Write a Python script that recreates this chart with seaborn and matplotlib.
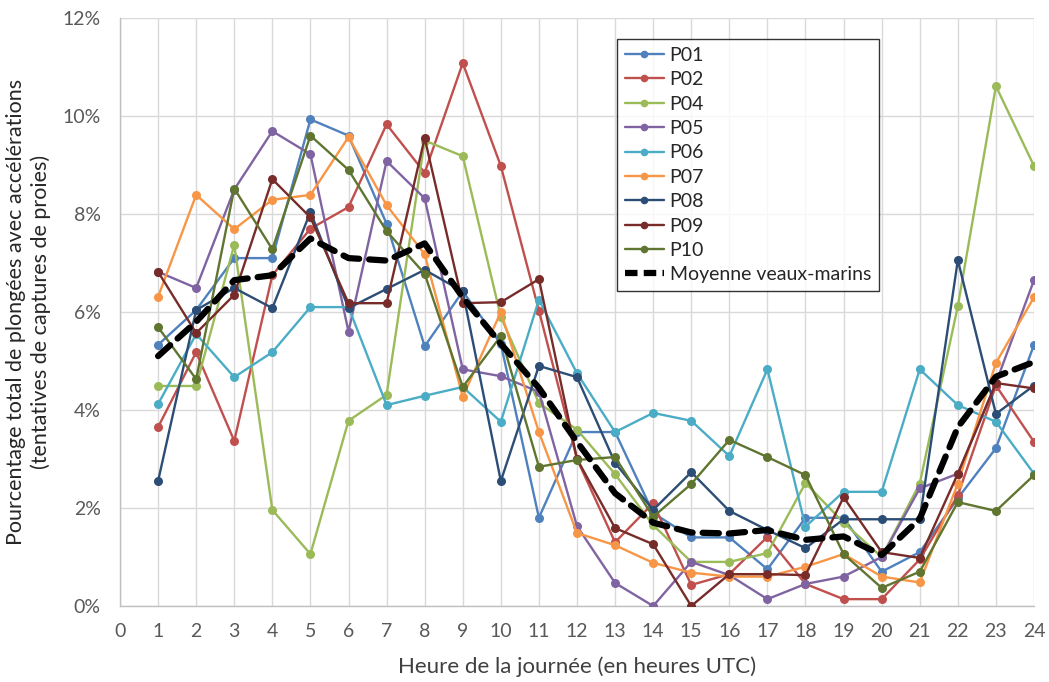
import numpy as np
import pandas as pd
import matplotlib
matplotlib.use("Agg")
import matplotlib.pyplot as plt
import seaborn as sns
from matplotlib.lines import Line2D

hours = list(range(1, 25))
series_names = ["P01", "P02", "P04", "P05", "P06", "P07", "P08", "P09", "P10"]

P01 = [5.33, 6.04, 7.1, 7.1, 9.93, 9.6, 7.8, 5.3, 6.42, 5.35, 1.8, 3.55, 3.55, 1.9, 1.4, 1.4, 0.75, 1.8, 1.8, 0.7, 1.1, 2.2, 3.22, 5.33]
P02 = [3.65, 5.18, 3.37, 6.75, 7.7, 8.14, 9.83, 8.84, 11.08, 8.98, 6.03, 3.0, 1.3, 2.1, 0.43, 0.65, 1.41, 0.45, 0.14, 0.14, 0.95, 2.26, 4.5, 3.35]
P04 = [4.49, 4.49, 7.37, 1.96, 1.06, 3.78, 4.31, 9.5, 9.18, 5.9, 4.14, 3.6, 2.69, 1.65, 0.9, 0.9, 1.08, 2.51, 1.7, 1.0, 2.5, 6.12, 10.61, 8.98]
P05 = [6.82, 6.49, 8.5, 9.69, 9.22, 5.6, 9.08, 8.32, 4.83, 4.69, 4.37, 1.63, 0.47, 0.0, 0.9, 0.63, 0.14, 0.45, 0.6, 1.0, 2.4, 2.7, 4.55, 6.65]
P06 = [4.12, 5.55, 4.67, 5.18, 6.1, 6.1, 4.1, 4.29, 4.47, 3.76, 6.25, 4.75, 3.55, 3.94, 3.78, 3.06, 4.83, 1.62, 2.33, 2.33, 4.83, 4.1, 3.76, 2.7]
P07 = [6.31, 8.39, 7.69, 8.29, 8.39, 9.57, 8.18, 7.18, 4.27, 6.0, 3.55, 1.49, 1.24, 0.88, 0.68, 0.6, 0.6, 0.8, 1.06, 0.6, 0.48, 2.5, 4.96, 6.3]
P08 = [2.55, 6.04, 6.49, 6.08, 8.04, 6.08, 6.47, 6.86, 6.42, 2.55, 4.9, 4.67, 2.92, 1.96, 2.73, 1.94, 1.55, 1.18, 1.77, 1.77, 1.77, 7.06, 3.92, 4.5]
P09 = [6.82, 5.57, 6.35, 8.71, 7.93, 6.18, 6.18, 9.55, 6.18, 6.2, 6.67, 3.0, 1.59, 1.26, 0.0, 0.65, 0.65, 0.63, 2.22, 1.1, 0.98, 2.7, 4.55, 4.44]
P10 = [5.69, 4.63, 8.52, 7.28, 9.6, 8.9, 7.65, 6.78, 4.47, 5.51, 2.84, 2.98, 3.04, 1.82, 2.49, 3.39, 3.04, 2.67, 1.06, 0.37, 0.7, 2.12, 1.94, 2.67]
mean_values = [5.1, 5.8, 6.65, 6.75, 7.5, 7.1, 7.05, 7.4, 6.3, 5.35, 4.45, 3.35, 2.3, 1.7, 1.5, 1.48, 1.55, 1.35, 1.42, 1.04, 1.78, 3.65, 4.68, 4.98]
mean_name = "Moyenne veaux-marins"

colors = ["#4F81BD", "#C0504D", "#9BBB59", "#8064A2", "#4BACC6",
          "#F79646", "#2C4D75", "#772C2A", "#5F7530"]

sns.set_theme(style="white")
plt.rcParams['font.family'] = ['Lato', 'DejaVu Sans']

all_vals = [P01, P02, P04, P05, P06, P07, P08, P09, P10]
rows = []
for name, vals in zip(series_names, all_vals):
    for h, v in zip(hours, vals):
        rows.append({"Heure": h, "Valeur": v, "Serie": name})
df = pd.DataFrame(rows)
df_mean = pd.DataFrame({"Heure": hours, "Valeur": mean_values})

fig = plt.figure(figsize=(10.49, 6.82), dpi=100)
ax = fig.add_axes([120/1049, 1-606/682, (1034-120)/1049, (606-18)/682])

sns.lineplot(data=df, x="Heure", y="Valeur", hue="Serie", hue_order=series_names,
             palette=colors, marker="o", markersize=6.5, markeredgewidth=0,
             linewidth=1.7, ax=ax, legend=False, zorder=3)
sns.lineplot(data=df_mean, x="Heure", y="Valeur", color="black", linewidth=4.5,
             ax=ax, legend=False, zorder=4)
mean_line = ax.get_lines()[-1]
mean_line.set_linestyle((0, (2.6, 1.6)))
mean_line.set_dash_capstyle("round")

ax.set_xlim(0, 24)
ax.set_ylim(0, 12)
ax.set_xticks(range(0, 25))
ax.set_yticks(range(0, 13, 2))
ax.set_yticklabels([f"{v}%" for v in range(0, 13, 2)])
ax.grid(True, color="#D9D9D9", linewidth=1.0)
ax.set_axisbelow(True)
for s in ["top", "right"]:
    ax.spines[s].set_visible(False)
for s in ["left", "bottom"]:
    ax.spines[s].set_color("#BFBFBF")
    ax.spines[s].set_linewidth(1.0)
ax.tick_params(axis="x", labelsize=14, colors="#595959", length=0, pad=12)
ax.tick_params(axis="y", labelsize=14, colors="#595959", length=0, pad=14)

ax.set_xlabel("Heure de la journée (en heures UTC)", fontsize=16, color="#404040", labelpad=12)
ax.set_ylabel("Pourcentage total de plongées avec accélérations\n(tentatives de captures de proies)",
              fontsize=15.5, color="#262626", labelpad=8, linespacing=1.3)

handles = [Line2D([0], [0], color=c, marker="o", markersize=5.5, markeredgewidth=0, linewidth=1.7)
           for c in colors]
handles.append(Line2D([0], [0], color="black", linewidth=4.5, linestyle=(0, (2.0, 1.0))))
leg = ax.legend(handles, series_names + [mean_name], loc="upper left",
                bbox_to_anchor=((617-120)/914, (606-39)/588), fontsize=14,
                frameon=True, fancybox=False, handlelength=2.0, handletextpad=0.3,
                labelspacing=0.38, borderpad=0.4, borderaxespad=0)
leg.get_frame().set_edgecolor("black")
leg.get_frame().set_linewidth(1.0)
for t in leg.get_texts():
    t.set_color("#262626")

fig.savefig("out.png", dpi=100)
